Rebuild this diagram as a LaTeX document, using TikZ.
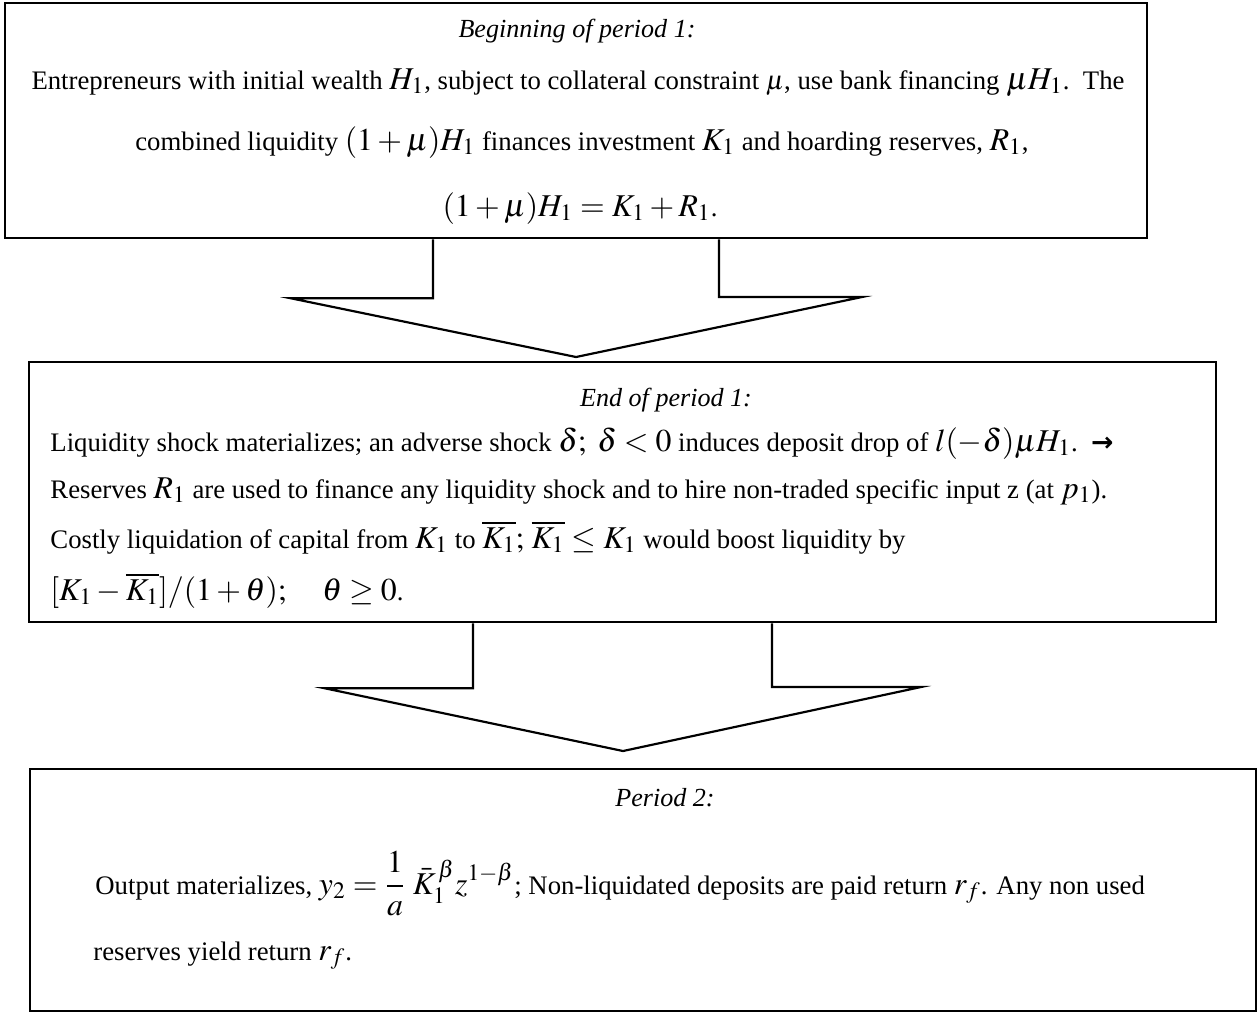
\documentclass[tikz,border=0pt]{standalone}
\usepackage{mathptmx}
\usepackage{fontspec}
\setmainfont{Liberation Serif}
\newfontfamily\arrowfont{DejaVu Sans}
\newcommand{\pxu}{0.46pt}
\newcommand{\mq}[1]{{\fontsize{14.6}{16}\selectfont$#1$}}
\tikzset{
    panel/.style={draw, line width=1.2pt, inner sep=0pt},
    blockarrow/.style={line width=1pt, line join=miter},
    txt/.style={inner sep=0pt, font=\fontsize{12.3}{14}\selectfont},
    headtxt/.style={inner sep=0pt, font=\fontsize{12}{14}\selectfont\itshape},
}
\begin{document}
\begin{tikzpicture}[x=\pxu, y=-\pxu]
    \useasboundingbox (0,0) rectangle (1259,1013);

    \node[panel, minimum width=1142*\pxu, minimum height=235*\pxu] (beginbox) at (576,120.5) {};
    \node[panel, minimum width=1187*\pxu, minimum height=260*\pxu] (endbox) at (622.5,492) {};
    \node[panel, minimum width=1226*\pxu, minimum height=242*\pxu] (periodbox) at (643,890) {};

    \node[headtxt, anchor=base] (beginhead) at (577,37) {Beginning of period 1:};
    \node[txt, anchor=base] (beginone) at (578,89) {Entrepreneurs with initial wealth \mq{H_1}, subject to collateral constraint $\mu$, use bank financing \mq{\mu H_1}.\ \ The};
    \node[txt, anchor=base] (begintwo) at (582,150) {combined liquidity \mq{(1+\mu)H_1} finances investment \mq{K_1} and hoarding reserves, \mq{R_1},};
    \node[txt, anchor=base] (beginthree) at (580,216) {\mq{(1+\mu)H_1 = K_1 + R_1}.};

    \node[headtxt, anchor=base] (endhead) at (666,406) {End of period 1:};
    \node[txt, anchor=base west] (endone) at (50,451) {Liquidity shock materializes; an adverse shock \mq{\delta;\; \delta<0} induces deposit drop of \mq{l(-\delta)\mu H_1}.\ \ {\arrowfont\bfseries →}};
    \node[txt, anchor=base west] (endtwo) at (50,498) {Reserves \mq{R_1} are used to finance any liquidity shock and to hire non-traded specific input z (at \mq{p_1}).};
    \node[txt, anchor=base west] (endthree) at (50,548) {Costly liquidation of capital from \mq{K_1} to \mq{\overline{K_1};\, \overline{K_1}\le K_1} would boost liquidity by};
    \node[txt, anchor=base west] (endfour) at (50,600) {\mq{[K_1-\overline{K_1}]/(1+\theta);\quad \theta\ge 0}.};

    \node[headtxt, anchor=base] (periodhead) at (665,806) {Period 2:};
    \node[txt, anchor=base west] (periodone) at (95,894) {Output materializes, \mq{\displaystyle y_2=\frac{1}{a}\;\bar{K}_1^{\,\beta} z^{1-\beta}}; Non-liquidated deposits are paid return \mq{r_f}. Any non used};
    \node[txt, anchor=base west] (periodtwo) at (93,960) {reserves yield return \mq{r_f}.};

    \coordinate (tipone) at (576,357);
    \coordinate (tiptwo) at (623,751);
    \draw[blockarrow] ([xshift=-143*\pxu]beginbox.south) -- ++(0,59) -- ++(-142,0) -- (tipone) -- ++(286,-60) -- ++(-143,0) -- ([xshift=143*\pxu]beginbox.south);
    \draw[blockarrow] ([xshift=-149.5*\pxu]endbox.south) -- ++(0,65) -- ++(-148,0) -- (tiptwo) -- ++(298,-64) -- ++(-149,0) -- ([xshift=149.5*\pxu]endbox.south);
\end{tikzpicture}
\end{document}
